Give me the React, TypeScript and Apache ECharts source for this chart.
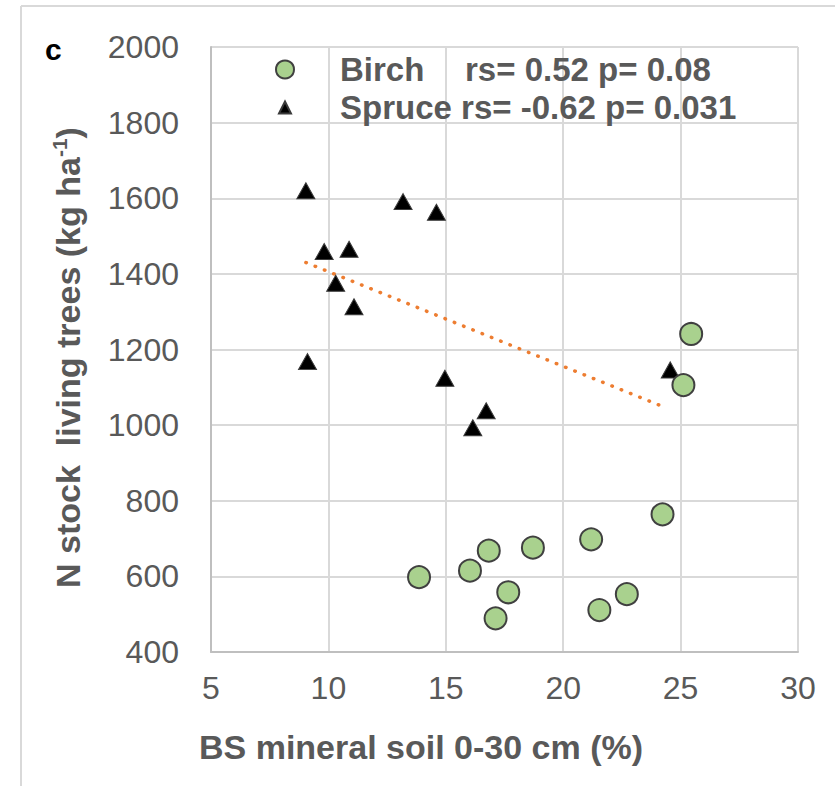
import React, { useEffect, useRef } from "react";
import * as echarts from "echarts";

// Birch: BS mineral soil (%) vs N stock living trees (kg/ha)
const birchX = [13.86, 16.03, 16.83, 18.71, 17.66, 17.12, 21.19, 24.23, 21.54, 22.71, 25.45, 25.12];
const birchY = [598, 615, 668, 676, 558, 489, 698, 764, 511, 553, 1241, 1106];

// Spruce
const spruceX = [9.04, 13.18, 14.6, 9.82, 10.88, 10.31, 11.09, 9.11, 14.96, 16.72, 16.15, 24.56];
const spruceY = [1620, 1591, 1563, 1459, 1465, 1375, 1313, 1168, 1124, 1038, 993, 1146];

// Spruce linear trend line end points
const trendX = [9.04, 24.37];
const trendY = [1430, 1046];

const seriesNames = ["Birch", "Spruce"];
const seriesStats = ["rs= 0.52 p= 0.08", "rs= -0.62 p= 0.031"];

const xTitle = "BS mineral soil 0-30 cm (%)";
const yTitleMain = "N stock  living trees (kg ha";
const yTitleSup = "-1";
const panelLabel = "c";

const FONT = "'Liberation Sans', Arial, Helvetica, sans-serif";
const GREY = "#595959";

export default function App() {
  const ref = useRef<HTMLDivElement>(null);

  useEffect(() => {
    if (!ref.current) return;
    const chart = echarts.init(ref.current, null, { renderer: "svg" });
    const birch = birchX.map((x, i) => [x, birchY[i]]);
    const spruce = spruceX.map((x, i) => [x, spruceY[i]]);
    const trend = trendX.map((x, i) => [x, trendY[i]]);

    chart.setOption({
      animation: false,
      backgroundColor: "#ffffff",
      textStyle: { fontFamily: FONT },
      grid: { left: 211, right: 37, top: 47, bottom: 134, containLabel: false },
      legend: {
        data: [
          { name: seriesNames[0], icon: "circle" },
          { name: seriesNames[1], icon: "path://M0,0M18,18M3,15L9,3L15,15Z" },
        ],
        orient: "vertical",
        left: 270,
        top: 48,
        itemWidth: 100,
        itemHeight: 18,
        itemGap: 5,
        symbolKeepAspect: true,
        formatter: (name: string) => {
          const i = seriesNames.indexOf(name);
          if (i === 0) return `{n|${name}}{v|${seriesStats[i]}}`;
          return `{v|${name} ${seriesStats[i]}}`;
        },
        textStyle: {
          fontFamily: FONT,
          fontWeight: "bold",
          fontSize: 33,
          lineHeight: 33,
          color: GREY,
          rich: {
            n: { width: 125, fontFamily: FONT, fontWeight: "bold", fontSize: 33, color: GREY, lineHeight: 33 },
            v: { fontFamily: FONT, fontWeight: "bold", fontSize: 33, color: GREY, lineHeight: 33 },
          },
        },
      },
      xAxis: {
        type: "value",
        min: 5,
        max: 30,
        interval: 5,
        name: xTitle,
        nameLocation: "middle",
        nameGap: 78,
        nameTextStyle: {
          fontFamily: FONT,
          fontWeight: "bold",
          fontSize: 34,
          color: GREY,
          padding: [0, 167, 0, 0],
        },
        axisLine: { show: true, lineStyle: { color: "#bfbfbf", width: 2 } },
        axisTick: { show: false },
        axisLabel: { fontFamily: FONT, fontSize: 32, color: GREY, margin: 20 },
        splitLine: { show: true, lineStyle: { color: "#d9d9d9", width: 2 } },
      },
      yAxis: {
        type: "value",
        min: 400,
        max: 2000,
        interval: 200,
        name: `{a|${yTitleMain}}{b|${yTitleSup}}{a|)}`,
        nameLocation: "middle",
        nameGap: 124,
        nameTextStyle: {
          padding: [0, 16, 0, 0],
          rich: {
            a: { fontFamily: FONT, fontWeight: "bold", fontSize: 34, color: GREY, lineHeight: 38 },
            b: { fontFamily: FONT, fontWeight: "bold", fontSize: 21, color: GREY, lineHeight: 22, verticalAlign: "top" },
          },
        },
        axisLine: { show: true, lineStyle: { color: "#bfbfbf", width: 2 } },
        axisTick: { show: false },
        axisLabel: {
          fontFamily: FONT,
          fontSize: 32,
          color: GREY,
          margin: 32,
          formatter: (v: number) => String(v),
        },
        splitLine: { show: true, lineStyle: { color: "#d9d9d9", width: 2 } },
      },
      series: [
        {
          name: "Spruce trend",
          type: "line",
          data: trend,
          symbol: "none",
          silent: true,
          lineStyle: { color: "#ED7D31", width: 3.5, type: [0.5, 9.5], cap: "round" },
          z: 1,
        },
        {
          name: seriesNames[0],
          type: "scatter",
          data: birch,
          symbol: "circle",
          symbolSize: 22,
          itemStyle: { color: "#A9D18E", borderColor: "#404040", borderWidth: 2, opacity: 1 },
          z: 3,
        },
        {
          name: seriesNames[1],
          type: "scatter",
          data: spruce,
          symbol: "triangle",
          symbolSize: [18, 16],
          symbolKeepAspect: true,
          itemStyle: { color: "#000000", borderColor: "#3a3a3a", borderWidth: 1, opacity: 1 },
          z: 2,
        },
      ],
      graphic: [
        {
          type: "line",
          shape: { x1: 21, y1: 6, x2: 835, y2: 6 },
          style: { stroke: "#d9d9d9", lineWidth: 2 },
          silent: true,
        },
        {
          type: "line",
          shape: { x1: 21, y1: 6, x2: 21, y2: 786 },
          style: { stroke: "#d9d9d9", lineWidth: 2 },
          silent: true,
        },
        {
          type: "text",
          x: 45,
          y: 49,
          style: {
            text: panelLabel,
            fill: "#000000",
            fontFamily: FONT,
            fontWeight: "bold",
            fontSize: 30,
            verticalAlign: "middle",
          },
        },
      ],
    });
    return () => chart.dispose();
  }, []);

  return (
    <div
      ref={ref}
      style={{ position: "fixed", left: 0, top: 0, width: 835, height: 786, background: "#fff" }}
    />
  );
}
